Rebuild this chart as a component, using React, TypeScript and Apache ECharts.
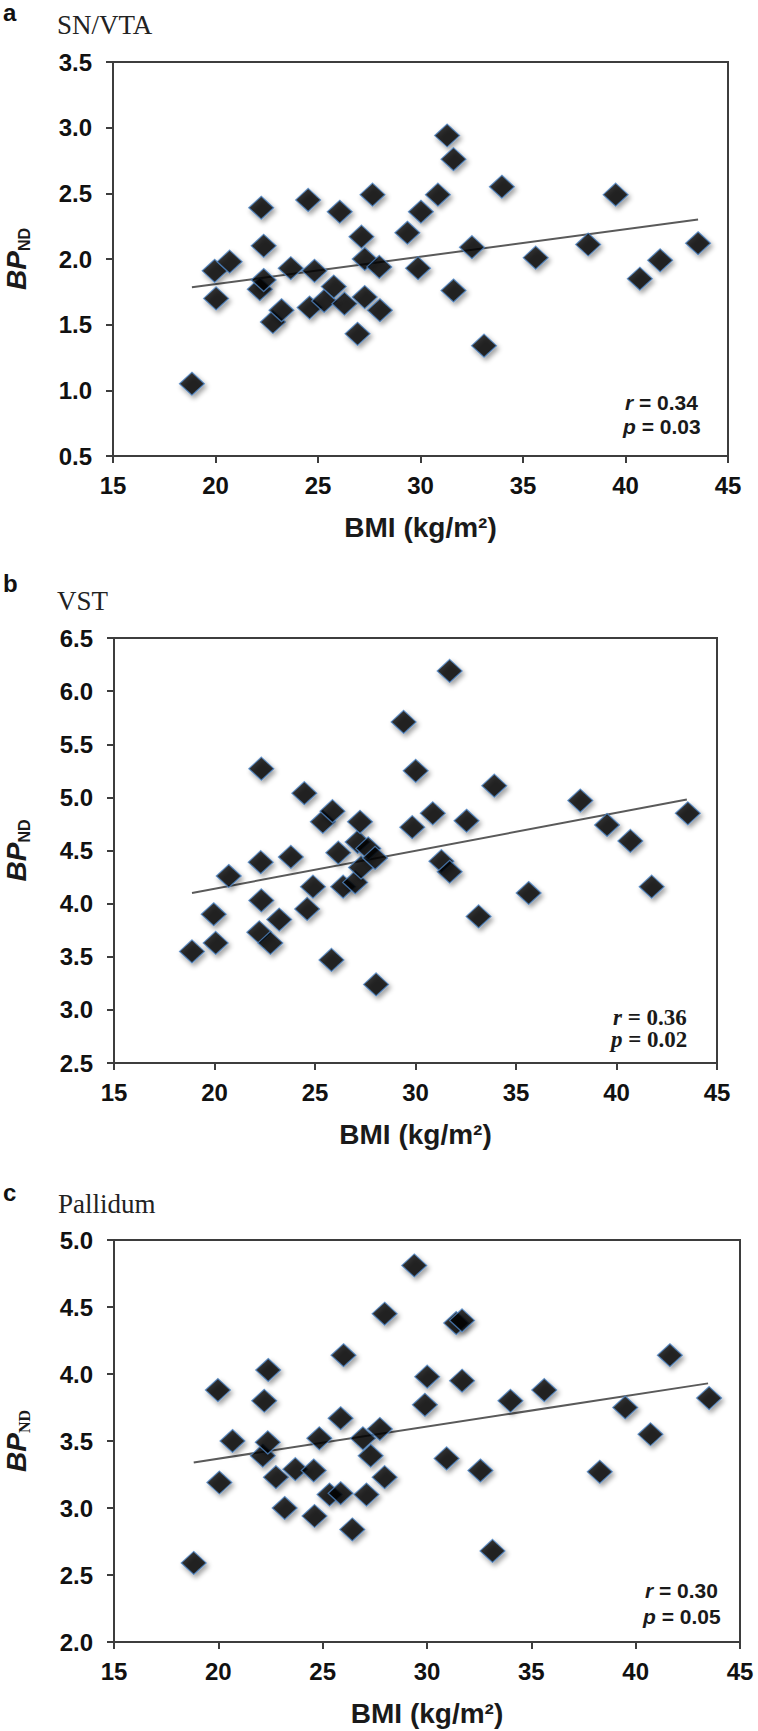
import React, { useEffect, useRef } from "react";
import * as echarts from "echarts";

// ---------- data ----------
const xTicks = [15, 20, 25, 30, 35, 40, 45];

// Panel a: SN/VTA
const bmiA = [18.85, 19.96, 20.03, 20.69, 22.16, 22.23, 22.35, 22.35, 22.8, 23.22, 23.67, 24.52, 24.59, 24.83, 25.3, 25.77, 26.06, 26.29, 26.93, 27.12, 27.28, 27.28, 27.66, 27.99, 28.02, 29.36, 29.88, 30.02, 30.85, 31.3, 31.61, 31.61, 32.51, 33.1, 33.97, 35.62, 38.18, 39.52, 40.7, 41.69, 43.54];
const bpA = [1.05, 1.91, 1.7, 1.98, 1.77, 2.39, 2.1, 1.84, 1.52, 1.61, 1.93, 2.45, 1.63, 1.91, 1.68, 1.79, 2.36, 1.66, 1.43, 2.17, 2.0, 1.71, 2.49, 1.94, 1.61, 2.2, 1.93, 2.36, 2.49, 2.94, 2.76, 1.76, 2.09, 1.34, 2.55, 2.01, 2.11, 2.49, 1.85, 1.99, 2.12];
const trendAX = [18.85, 43.54];
const trendAY = [1.785, 2.3];

// Panel b: VST
const bmiB = [18.88, 19.96, 20.06, 20.71, 22.23, 22.3, 22.33, 22.33, 22.78, 23.22, 23.8, 24.47, 24.61, 24.9, 25.39, 25.82, 25.87, 26.16, 26.4, 27.0, 27.12, 27.24, 27.29, 27.65, 27.99, 28.04, 29.41, 29.84, 30.01, 30.86, 31.29, 31.7, 31.7, 32.54, 33.14, 33.92, 35.63, 38.2, 39.53, 40.69, 41.75, 43.55];
const bpB = [3.55, 3.9, 3.63, 4.26, 3.73, 4.39, 4.03, 5.27, 3.63, 3.85, 4.44, 5.04, 3.95, 4.16, 4.77, 3.47, 4.87, 4.48, 4.16, 4.2, 4.58, 4.77, 4.34, 4.52, 4.43, 3.24, 5.71, 4.72, 5.25, 4.85, 4.4, 6.19, 4.3, 4.78, 3.88, 5.11, 4.1, 4.97, 4.74, 4.59, 4.16, 4.85];
const trendBX = [18.88, 43.5];
const trendBY = [4.1, 4.98];

// Panel c: Pallidum
const bmiC = [18.82, 19.98, 20.05, 20.68, 22.13, 22.2, 22.37, 22.39, 22.76, 23.18, 23.69, 24.57, 24.61, 24.84, 25.33, 25.86, 25.86, 26.0, 26.42, 26.93, 27.1, 27.3, 27.74, 27.97, 27.97, 29.39, 29.9, 30.01, 30.94, 31.4, 31.68, 31.68, 32.56, 33.14, 34.0, 35.62, 38.28, 39.5, 40.71, 41.64, 43.52];
const bpC = [2.59, 3.88, 3.19, 3.5, 3.39, 3.8, 3.49, 4.03, 3.23, 3.0, 3.29, 3.28, 2.94, 3.52, 3.1, 3.11, 3.67, 4.14, 2.84, 3.52, 3.1, 3.39, 3.59, 3.23, 4.45, 4.81, 3.77, 3.98, 3.37, 4.38, 4.4, 3.95, 3.28, 2.68, 3.8, 3.88, 3.27, 3.75, 3.55, 4.14, 3.82];
const trendCX = [18.82, 43.47];
const trendCY = [3.34, 3.93];

const panelLetters = ["a", "b", "c"];
const panelTitles = ["SN/VTA", "VST", "Pallidum"];
const rValues = ["0.34", "0.36", "0.30"];
const pValues = ["0.03", "0.02", "0.05"];
const yRanges = [
  [0.5, 3.5],
  [2.5, 6.5],
  [2.0, 5.0],
];
const xLabel = "BMI (kg/m²)";

// ---------- layout ----------
const SANS = "'Liberation Sans', Arial, Helvetica, sans-serif";
const SERIF = "'Liberation Serif', 'Times New Roman', serif";
const grids = [
  { left: 113, top: 62, width: 615, height: 394 },
  { left: 114, top: 638, width: 603, height: 425 },
  { left: 114, top: 1240, width: 626, height: 402 },
];
const letterPos = [
  { x: 3, y: 12 },
  { x: 3, y: 583 },
  { x: 3, y: 1192 },
];
const titlePos = [
  { x: 57, y: 32 },
  { x: 57, y: 608 },
  { x: 58, y: 1211 },
];
const statPos = [
  { x: 625, y1: 402, y2: 426, font: SANS },
  { x: 613, y1: 1017, y2: 1039, font: SERIF },
  { x: 645, y1: 1590, y2: 1616, font: SANS },
];

const AXIS_COLOR = "#3d3d3d";

export default function App() {
  const ref = useRef<HTMLDivElement>(null);

  useEffect(() => {
    if (!ref.current) return;
    const chart = echarts.init(ref.current, undefined, { renderer: "svg" });

    const datasets = [
      { x: bmiA, y: bpA, tx: trendAX, ty: trendAY },
      { x: bmiB, y: bpB, tx: trendBX, ty: trendBY },
      { x: bmiC, y: bpC, tx: trendCX, ty: trendCY },
    ];

    const xAxes = grids.map((_, i) => ({
      type: "value",
      gridIndex: i,
      min: xTicks[0],
      max: xTicks[xTicks.length - 1],
      interval: 5,
      name: xLabel,
      nameLocation: "middle",
      nameGap: 57,
      nameTextStyle: { fontSize: 28, fontWeight: "bold", color: "#1a1a1a", fontFamily: SANS },
      axisLine: { show: true, onZero: false, lineStyle: { color: AXIS_COLOR, width: 2 } },
      axisTick: { show: true, inside: false, length: 7, lineStyle: { color: AXIS_COLOR, width: 2 } },
      axisLabel: { fontSize: 24, fontWeight: "bold", color: "#111", margin: 17, fontFamily: SANS },
      splitLine: { show: false },
    }));

    const yAxes = grids.map((_, i) => ({
      type: "value",
      gridIndex: i,
      min: yRanges[i][0],
      max: yRanges[i][1],
      interval: 0.5,
      axisLine: { show: true, onZero: false, lineStyle: { color: AXIS_COLOR, width: 2 } },
      axisTick: { show: true, inside: false, length: 7, lineStyle: { color: AXIS_COLOR, width: 2 } },
      axisLabel: {
        fontSize: 24,
        fontWeight: "bold",
        color: "#111",
        margin: 21,
        fontFamily: SANS,
        formatter: (v: number) => v.toFixed(1),
      },
      splitLine: { show: false },
    }));

    const series: any[] = [];
    datasets.forEach((d, i) => {
      series.push({
        type: "scatter",
        xAxisIndex: i,
        yAxisIndex: i,
        symbol: "diamond",
        symbolSize: [25, 23],
        data: d.x.map((v, k) => [v, d.y[k]]),
        itemStyle: {
          color: "#050505",
          borderColor: "#4f86c6",
          borderWidth: 1.2,
          shadowColor: "rgba(0,0,0,0.45)",
          shadowBlur: 5,
          shadowOffsetX: 2,
          shadowOffsetY: 3,
        },
        z: 3,
      });
      series.push({
        type: "line",
        xAxisIndex: i,
        yAxisIndex: i,
        data: d.tx.map((v, k) => [v, d.ty[k]]),
        symbol: "none",
        lineStyle: { color: "#5a5a5a", width: 2 },
        z: 2,
      });
    });

    const graphics: any[] = [];
    grids.forEach((g, i) => {
      graphics.push({
        type: "text",
        x: letterPos[i].x,
        y: letterPos[i].y,
        style: {
          text: panelLetters[i],
          font: `bold 24px ${SANS}`,
          fill: "#111",
          align: "left",
          verticalAlign: "middle",
        },
      });
      graphics.push({
        type: "text",
        x: titlePos[i].x,
        y: titlePos[i].y + 6,
        style: {
          text: panelTitles[i],
          font: `27px ${SERIF}`,
          fill: "#222",
          align: "left",
          verticalAlign: "bottom",
        },
      });
      graphics.push({
        type: "text",
        x: 17,
        y: g.top + g.height / 2,
        rotation: Math.PI / 2,
        style: {
          text: "{bp|BP}{nd|ND}",
          align: "center",
          verticalAlign: "middle",
          fill: "#1a1a1a",
          rich: {
            bp: {
              fontSize: 28,
              fontStyle: "italic",
              fontWeight: "bold",
              fontFamily: SANS,
              lineHeight: 30,
              verticalAlign: "top",
              fill: "#1a1a1a",
            },
            nd: {
              fontSize: 16,
              fontWeight: "bold",
              fontFamily: i === 2 ? SERIF : SANS,
              lineHeight: 14,
              verticalAlign: "bottom",
              fill: "#1a1a1a",
            },
          },
        },
      });
      const sp = statPos[i];
      const isSerif = sp.font === SERIF;
      const fs = isSerif ? 23 : 21;
      graphics.push({
        type: "text",
        x: sp.x,
        y: sp.y1,
        style: {
          text: `{i|r} = ${rValues[i]}`,
          align: "left",
          verticalAlign: "middle",
          fill: "#1a1a1a",
          font: `bold ${fs}px ${sp.font}`,
          rich: {
            i: { fontStyle: "italic", fontWeight: "bold", fontSize: fs, fontFamily: sp.font, fill: "#1a1a1a" },
          },
        },
      });
      graphics.push({
        type: "text",
        x: sp.x - 2,
        y: sp.y2,
        style: {
          text: `{i|p} = ${pValues[i]}`,
          align: "left",
          verticalAlign: "middle",
          fill: "#1a1a1a",
          font: `bold ${fs}px ${sp.font}`,
          rich: {
            i: { fontStyle: "italic", fontWeight: "bold", fontSize: fs, fontFamily: sp.font, fill: "#1a1a1a" },
          },
        },
      });
    });

    chart.setOption({
      animation: false,
      backgroundColor: "#ffffff",
      grid: grids.map((g) => ({
        ...g,
        show: true,
        borderColor: AXIS_COLOR,
        borderWidth: 2,
        backgroundColor: "transparent",
        containLabel: false,
      })),
      xAxis: xAxes,
      yAxis: yAxes,
      series,
      graphic: graphics,
    });

    return () => chart.dispose();
  }, []);

  return (
    <div
      ref={ref}
      style={{ position: "absolute", left: 0, top: 0, width: 758, height: 1731, background: "#fff" }}
    />
  );
}
